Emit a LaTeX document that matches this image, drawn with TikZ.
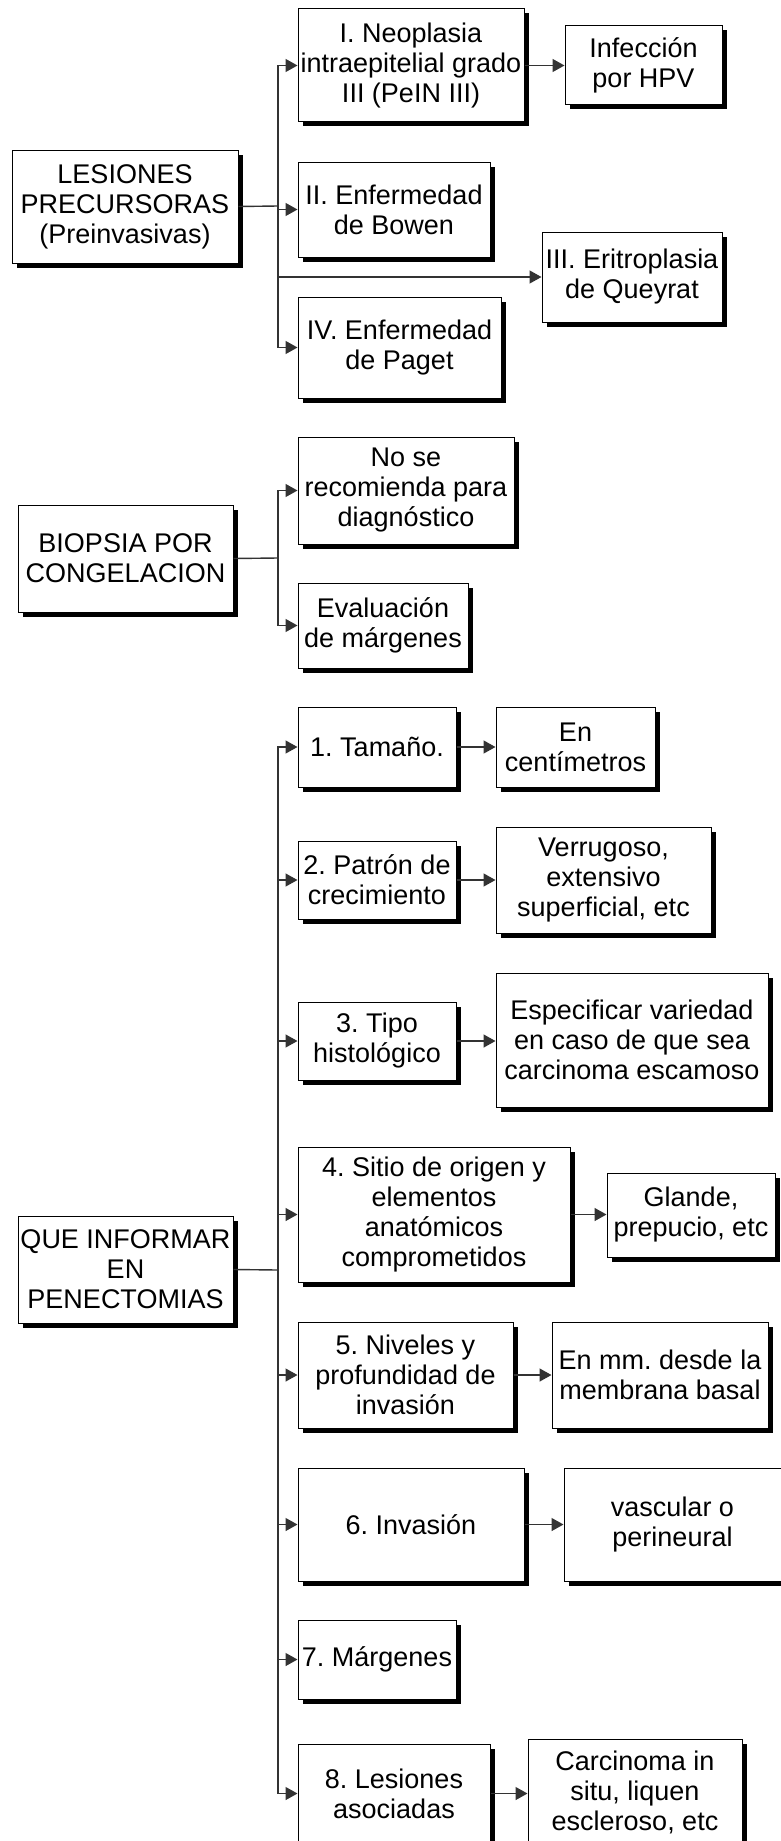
\documentclass[tikz,border=0pt]{standalone}
\usepackage{fontspec}
\setmainfont{Liberation Sans}
\usetikzlibrary{arrows.meta,shadows}
\begin{document}
\frenchspacing
\begin{tikzpicture}[x=1pt,y=-1pt,
  box/.style={draw=black, line width=1pt, fill=white, inner sep=0pt, align=center,
    font=\fontsize{27}{30}\selectfont,
    drop shadow={shadow xshift=4.5pt, shadow yshift=-4.5pt, fill=black, opacity=1}},
  link/.style={draw=black!80, line width=1.4pt},
  arr/.style={link, -{Triangle[length=12pt,width=13pt]}}
]
\useasboundingbox (0,0) rectangle (780,1841);
\fill[white] (0,0) rectangle (780,1841);
\newcommand{\bx}[6]{\node[box, minimum width={#4-#2}, minimum height={#5-#3}] (#1) at ({(#2+#4)/2},{(#3+#5)/2}) {#6};}

% Section 1
\bx{les}{12}{150}{238}{263}{LESIONES\\PRECURSORAS\\(Preinvasivas)}
\bx{neo}{298}{9}{524}{122}{I. Neoplasia\\intraepitelial grado\\III (PeIN III)}
\bx{inf}{565}{26}{722}{105}{Infección\\por HPV}
\bx{bow}{298}{162}{490}{257}{II. Enfermedad\\de Bowen}
\bx{eri}{542}{232}{722}{322}{III. Eritroplasia\\de Queyrat}
\bx{pag}{298}{297}{501}{398}{IV. Enfermedad\\de Paget}
\coordinate (t1) at (278,206);

% Section 2
\bx{bio}{18}{505}{233}{612}{BIOPSIA POR\\CONGELACION}
\bx{nose}{298}{437}{514}{544}{No se\\recomienda para\\diagnóstico}
\bx{eva}{298}{583}{468}{668}{Evaluación\\de márgenes}
\coordinate (t2) at (278,558);

% Section 3
\bx{que}{18}{1216}{233}{1323}{QUE INFORMAR\\EN\\PENECTOMIAS}
\bx{a1}{298}{707}{456}{787}{1. Tamaño.}
\bx{b1}{496}{707}{655}{787}{En\\centímetros}
\bx{a2}{298}{841}{456}{919}{2. Patrón de\\crecimiento}
\bx{b2}{496}{827}{711}{933}{Verrugoso,\\extensivo\\superficial, etc}
\bx{a3}{298}{1002}{456}{1080}{3. Tipo\\histológico}
\bx{b3}{496}{973}{768}{1107}{Especificar variedad\\en caso de que sea\\carcinoma escamoso}
\bx{a4}{298}{1147}{570}{1282}{4. Sitio de origen y\\elementos\\anatómicos\\comprometidos}
\bx{b4}{607}{1173}{775}{1257}{Glande,\\prepucio, etc}
\bx{a5}{298}{1322}{513}{1428}{5. Niveles y\\profundidad de\\invasión}
\bx{b5}{552}{1322}{768}{1428}{En mm. desde la\\membrana basal}
\bx{a6}{298}{1468}{524}{1581}{6. Invasión}
\node[box, minimum width=225, minimum height=113] (b6) at (676.5,1524.5) {\hspace*{-8pt}vascular o\\\hspace*{-8pt}perineural};
\bx{a7}{298}{1620}{456}{1699}{7. Márgenes}
\bx{a8}{298}{1744}{490}{1843}{8. Lesiones\\asociadas}
\bx{b8}{528}{1739}{742}{1846}{Carcinoma in\\situ, liquen\\escleroso, etc}
\coordinate (t3) at (278,1270);

% Connectors section 1
\draw[link] (les.east) -- (t1);
\foreach \n in {neo,bow,eri,pag}{\draw[arr] (t1) |- (\n.west);}
\draw[arr] (neo.east) -- (inf.west);

% Connectors section 2
\draw[link] (bio.east) -- (t2);
\foreach \n in {nose,eva}{\draw[arr] (t2) |- (\n.west);}

% Connectors section 3
\draw[link] (que.east) -- (t3);
\foreach \n in {a1,a2,a3,a4,a5,a6,a7,a8}{\draw[arr] (t3) |- (\n.west);}
\foreach \a/\b in {a1/b1,a2/b2,a3/b3,a4/b4,a5/b5,a6/b6,a8/b8}{\draw[arr] (\a.east) -- (\a.east -| \b.west);}
\end{tikzpicture}
\end{document}
